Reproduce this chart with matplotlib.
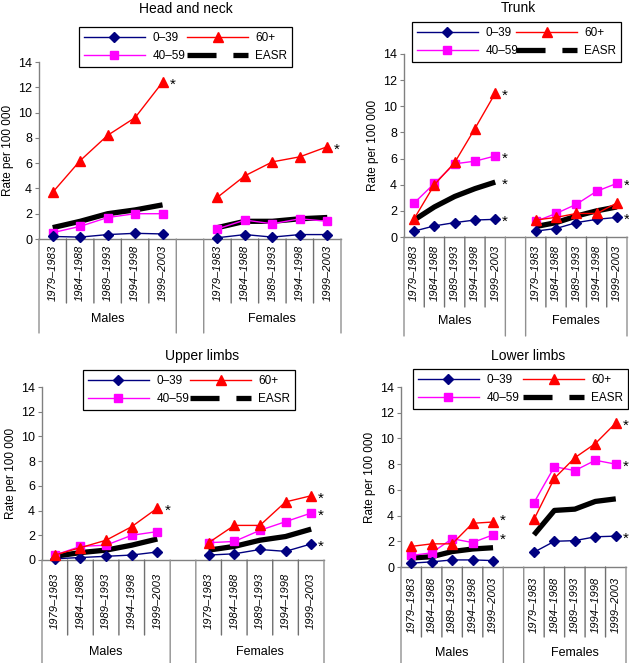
import matplotlib
matplotlib.use('Agg')
import matplotlib.pyplot as plt
from matplotlib.lines import Line2D

plt.rcParams['font.family'] = ['Liberation Sans', 'DejaVu Sans']

# periodos e grupos
periods = ['1979–1983', '1984–1988', '1989–1993', '1994–1998', '1999–2003']
groups = ['Males', 'Females']
series = ['0–39', '40–59', '60+', 'EASR']

# Head and neck (males 5 + females 5)
head_039 = [0.2, 0.15, 0.35, 0.45, 0.4, 0.1, 0.35, 0.15, 0.35, 0.35]
head_4059 = [0.5, 1.0, 1.7, 2.0, 2.0, 0.8, 1.5, 1.2, 1.6, 1.4]
head_60 = [3.7, 6.2, 8.2, 9.6, 12.4, 3.3, 5.0, 6.1, 6.5, 7.3]
head_easr = [0.9, 1.4, 2.0, 2.3, 2.7, 0.9, 1.4, 1.4, 1.6, 1.7]
head_stars = [('60+', 0), ('60+', 1)]

# Trunk
trunk_039 = [0.45, 0.85, 1.1, 1.3, 1.35, 0.45, 0.65, 1.1, 1.35, 1.5]
trunk_4059 = [2.6, 4.1, 5.6, 5.8, 6.2, 1.2, 1.8, 2.5, 3.5, 4.1]
trunk_60 = [1.4, 4.0, 5.7, 8.3, 11.0, 1.3, 1.5, 1.8, 1.8, 2.6]
trunk_easr = [1.3, 2.3, 3.1, 3.7, 4.2, 0.8, 1.1, 1.6, 2.0, 2.3]
trunk_stars = [('60+', 0), ('40–59', 0), ('EASR', 0), ('0–39', 0),
               ('40–59', 1), ('0–39', 1)]

# Upper limbs
upper_039 = [0.1, 0.2, 0.3, 0.4, 0.65, 0.4, 0.5, 0.85, 0.7, 1.3]
upper_4059 = [0.4, 1.1, 1.2, 2.0, 2.3, 1.4, 1.5, 2.4, 3.1, 3.8]
upper_60 = [0.4, 1.0, 1.6, 2.7, 4.2, 1.4, 2.8, 2.8, 4.7, 5.2]
upper_easr = [0.3, 0.6, 0.8, 1.2, 1.7, 0.8, 1.1, 1.6, 1.9, 2.5]
upper_stars = [('60+', 0), ('60+', 1), ('40–59', 1), ('0–39', 1)]

# Lower limbs
lower_039 = [0.3, 0.4, 0.55, 0.55, 0.5, 1.15, 2.0, 2.05, 2.35, 2.4]
lower_4059 = [0.9, 1.1, 2.2, 1.9, 2.5, 5.0, 7.8, 7.5, 8.3, 8.0]
lower_60 = [1.6, 1.8, 1.8, 3.4, 3.5, 3.7, 6.9, 8.5, 9.6, 11.2]
lower_easr = [0.7, 0.8, 1.2, 1.4, 1.5, 2.5, 4.4, 4.5, 5.1, 5.3]
lower_stars = [('60+', 0), ('40–59', 0), ('60+', 1), ('40–59', 1), ('0–39', 1)]

W, H = 629, 663
fig = plt.figure(figsize=(W / 100, H / 100), dpi=100)

# estilos das series
styles = {
    '0–39': dict(color='#000080', marker='D', ms=5, lw=1.0, zorder=4),
    '40–59': dict(color='#FF00FF', marker='s', ms=6, lw=1.0, zorder=3),
    '60+': dict(color='#FF0000', marker='^', ms=7, lw=1.0, zorder=5),
    'EASR': dict(color='black', marker=None, ms=0, lw=3.8, zorder=2),
}

# paineis: titulo, dados, caixa do eixo (px), legenda (px), titulo (px), offsets
panels = [
    dict(title='Head and neck', data=[head_039, head_4059, head_60, head_easr], stars=head_stars,
         ax=(39, 62, 341, 239), leg=(79, 27, 292, 67), tpos=(186, 9),
         lab_pad=6, sep=64, grp=80, line=94, nudge={}),
    dict(title='Trunk', data=[trunk_039, trunk_4059, trunk_60, trunk_easr], stars=trunk_stars,
         ax=(404, 54, 627, 237), leg=(412, 22, 621, 62), tpos=(518, 8),
         lab_pad=8, sep=70, grp=84, line=99, nudge={}),
    dict(title='Upper limbs', data=[upper_039, upper_4059, upper_60, upper_easr], stars=upper_stars,
         ax=(42, 387, 324, 560), leg=(83, 369, 295, 410), tpos=(202, 356),
         lab_pad=13, sep=75, grp=92, line=103, nudge={}),
    dict(title='Lower limbs', data=[lower_039, lower_4059, lower_60, lower_easr], stars=lower_stars,
         ax=(401, 387, 626, 567), leg=(413, 367, 628, 409), tpos=(528, 356),
         lab_pad=10, sep=70, grp=86, line=96, nudge={('60+', 0): 3, ('40–59', 0): -1.5}),
]

xm = [0, 1, 2, 3, 4]
xf = [6, 7, 8, 9, 10]
px = 72 / 100  # pixels -> pontos

for p in panels:
    x0, y0, x1, y1 = p['ax']
    ax = fig.add_axes([x0 / W, 1 - y1 / H, (x1 - x0) / W, (y1 - y0) / H])
    ax.set_xlim(-0.5, 10.5)
    ax.set_ylim(0, 14)
    for sp in ['top', 'right']:
        ax.spines[sp].set_visible(False)
    for sp in ['left', 'bottom']:
        ax.spines[sp].set_color('#808080')
        ax.spines[sp].set_linewidth(1.0)

    handles = {}
    for name, vals in zip(series, p['data']):
        st = styles[name]
        for xs, ys in [(xm, vals[:5]), (xf, vals[5:])]:
            ax.plot(xs, ys, color=st['color'], marker=st['marker'], ms=st['ms'],
                    lw=st['lw'], zorder=st['zorder'], clip_on=False,
                    solid_capstyle='butt')
        if name == 'EASR':
            handles[name] = Line2D([], [], color='black', lw=3.8, linestyle=(0, (5.5, 3.2)))
        else:
            handles[name] = Line2D([], [], color=st['color'], marker=st['marker'],
                                   ms=st['ms'], lw=1.0)

    # asteriscos
    for name, g in p['stars']:
        vals = p['data'][series.index(name)]
        xx = 4 if g == 0 else 10
        dy = p['nudge'].get((name, g), 0)
        ax.annotate('*', xy=(xx, vals[4 if g == 0 else 9]), xytext=(5, -2 + dy),
                    textcoords='offset points', ha='left', va='center',
                    fontsize=11, annotation_clip=False)

    ax.set_yticks(range(0, 15, 2))
    ax.tick_params(axis='y', length=3, color='#808080', labelsize=9, pad=2)
    ax.set_ylabel('Rate per 100 000', fontsize=8.5, labelpad=3)

    ax.set_xticks(xm + xf)
    ax.set_xticklabels(periods + periods, rotation=90, fontsize=8, style='italic',
                       va='top')
    ax.tick_params(axis='x', length=0, pad=p['lab_pad'] * px)

    # linhas da tabela sob o eixo
    tr = ax.get_xaxis_transform()
    for b in [0.5, 1.5, 2.5, 3.5, 6.5, 7.5, 8.5, 9.5]:
        ax.annotate('', xy=(b, 0), xycoords=tr, xytext=(0, -p['sep'] * px),
                    textcoords='offset points',
                    arrowprops=dict(arrowstyle='-', color='#707070', lw=1.0,
                                    shrinkA=0, shrinkB=0), annotation_clip=False)
    for b in [-0.5, 4.5, 5.5, 10.5]:
        ax.annotate('', xy=(b, 0), xycoords=tr, xytext=(0, -p['line'] * px),
                    textcoords='offset points',
                    arrowprops=dict(arrowstyle='-', color='#909090', lw=1.0,
                                    shrinkA=0, shrinkB=0), annotation_clip=False)
    for gx, gname in zip([2, 8], groups):
        ax.annotate(gname, xy=(gx, 0), xycoords=tr, xytext=(0, -p['grp'] * px),
                    textcoords='offset points', ha='center', va='center',
                    fontsize=9, annotation_clip=False)

    # legenda
    lx0, ly0, lx1, ly1 = p['leg']
    leg = ax.legend([handles[s] for s in series], series, ncol=2, loc='lower left',
                    bbox_to_anchor=(lx0 / W, 1 - ly1 / H, (lx1 - lx0) / W, (ly1 - ly0) / H),
                    bbox_transform=fig.transFigure, mode='expand', borderaxespad=0,
                    fontsize=8.5, handlelength=5.2, handletextpad=0.6,
                    columnspacing=1.6, fancybox=False, edgecolor='black',
                    framealpha=1, borderpad=0.4, labelspacing=0.55)
    leg.get_frame().set_linewidth(0.9)

    fig.text(p['tpos'][0] / W, 1 - p['tpos'][1] / H, p['title'], ha='center',
             va='center', fontsize=10)

plt.savefig('out.png', dpi=100)
